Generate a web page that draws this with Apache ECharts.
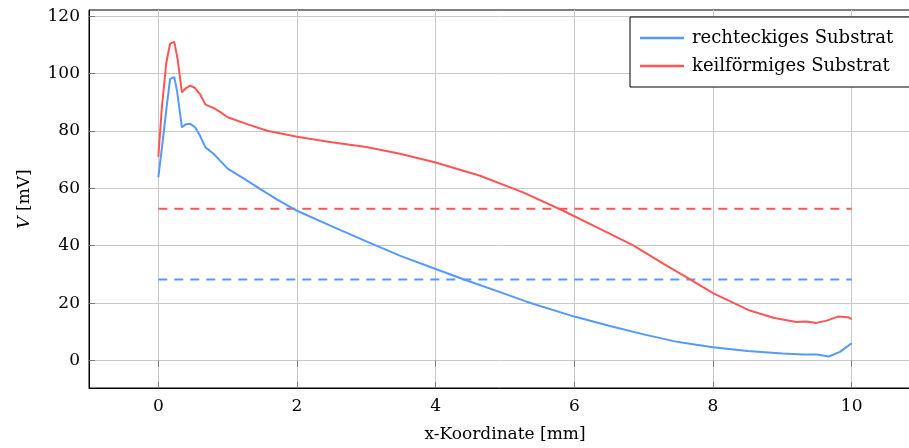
<!DOCTYPE html>
<html>
<head>
<meta charset="utf-8">
<script src="https://cdn.jsdelivr.net/npm/echarts@6/dist/echarts.min.js"></script>
<style>html,body{margin:0;padding:0;background:#fff;}#c{width:909px;height:448px;}</style>
</head>
<body>
<div id="c"></div>
<script>
const xTicks = [0, 2, 4, 6, 8, 10];
const yTicks = [0, 20, 40, 60, 80, 100, 120];

const rectX = [0, 0.08, 0.125, 0.17, 0.23, 0.27, 0.34, 0.40, 0.46, 0.53, 0.60, 0.68, 0.80, 0.89, 1.0, 1.28, 1.5, 1.71, 2.0, 2.48, 3.0, 3.5, 4.0, 4.4, 5.0, 5.31, 6.0, 6.5, 7.0, 7.5, 8.0, 8.5, 9.0, 9.3, 9.5, 9.67, 9.83, 10];
const rectY = [63.8, 80, 89.5, 98.2, 98.8, 94, 81.3, 82.4, 82.5, 81.3, 78.4, 74.3, 72, 69.7, 66.9, 62.7, 59.3, 56.2, 52.2, 47.0, 41.5, 36.4, 31.9, 28.3, 23.2, 20.5, 15.3, 12.1, 9.1, 6.4, 4.6, 3.3, 2.4, 2.1, 2.1, 1.4, 3.0, 6.0];

const keilX = [0, 0.05, 0.115, 0.17, 0.23, 0.28, 0.34, 0.40, 0.46, 0.53, 0.60, 0.68, 0.80, 0.89, 1.0, 1.28, 1.57, 2.0, 2.5, 3.0, 3.5, 4.0, 4.64, 5.26, 5.84, 6.37, 6.85, 7.3, 7.67, 8.0, 8.53, 8.87, 9.2, 9.35, 9.49, 9.64, 9.8, 9.95, 10];
const keilY = [71, 88, 103.8, 110.5, 111.1, 104.8, 93.5, 95, 95.8, 95, 92.9, 89.2, 88, 86.7, 84.8, 82.4, 80.1, 78.0, 76.1, 74.4, 72.0, 69.0, 64.4, 58.6, 52.2, 45.9, 40.1, 33.5, 28.3, 23.5, 17.4, 14.9, 13.4, 13.6, 13.1, 13.9, 15.3, 15.1, 14.4];

const refX = [0, 10];
const rectRef = [28.2, 28.2];
const keilRef = [52.9, 52.9];

const seriesNames = ['rechteckiges Substrat', 'keilförmiges Substrat'];
const BLUE = '#5599ff';
const RED = '#ff5555';
const FONT = 'DejaVu Serif';

const zip = (a, b) => a.map((v, i) => [v, b[i]]);

const chart = echarts.init(document.getElementById('c'), null, {renderer: 'canvas'});
chart.setOption({
  animation: false,
  backgroundColor: '#fff',
  grid: {left: 89, top: 10, width: 832, bottom: 60, show: true, borderColor: '#000', borderWidth: 1, containLabel: false, outerBoundsMode: 'none'},
  xAxis: [{
    type: 'value', min: -1, max: 11,
    name: 'x-Koordinate [mm]', nameLocation: 'middle', nameGap: 38,
    nameTextStyle: {fontFamily: FONT, fontSize: 17, color: '#000'},
    axisLine: {show: true, onZero: false, lineStyle: {color: '#000', width: 1}},
    axisTick: {show: true, inside: true, length: 6, customValues: xTicks, lineStyle: {color: '#777'}},
    axisLabel: {customValues: xTicks, fontFamily: FONT, fontSize: 17, color: '#000', margin: 10},
    splitLine: {show: true, customValues: xTicks, lineStyle: {color: '#c8c8c8', width: 1}}
  }, {
    type: 'value', min: -1, max: 11, position: 'top',
    axisLine: {show: false},
    axisTick: {show: true, inside: true, length: 6, customValues: xTicks, lineStyle: {color: '#777'}},
    axisLabel: {show: false},
    splitLine: {show: false}
  }],
  yAxis: {
    type: 'value', min: -9.6, max: 122.2,
    name: '{i|V} [mV]', nameLocation: 'middle', nameGap: 56, nameRotate: 90,
    nameTextStyle: {fontFamily: FONT, fontSize: 17, color: '#000', rich: {i: {fontFamily: FONT, fontStyle: 'italic', fontSize: 17}}},
    axisLine: {show: true, onZero: false, lineStyle: {color: '#000', width: 1}},
    axisTick: {show: true, inside: true, length: 6, customValues: yTicks, lineStyle: {color: '#777'}},
    axisLabel: {customValues: yTicks, fontFamily: FONT, fontSize: 17, color: '#000', margin: 9},
    splitLine: {show: true, customValues: yTicks, lineStyle: {color: '#c8c8c8', width: 1}}
  },
  legend: {
    data: seriesNames.map(n => ({name: n, icon: 'rect'})),
    orient: 'vertical', left: 630, top: 17,
    padding: [12, 20, 12, 10], itemGap: 10,
    itemWidth: 44, itemHeight: 2.5,
    backgroundColor: '#fff', borderColor: '#000', borderWidth: 1, borderRadius: 0,
    textStyle: {fontFamily: FONT, fontSize: 18, color: '#000', lineHeight: 18, padding: [0, 0, 0, 3]}
  },
  series: [
    {name: seriesNames[0], type: 'line', data: zip(rectX, rectY), showSymbol: false, symbol: 'none', smooth: false,
     lineStyle: {color: BLUE, width: 2}, itemStyle: {color: BLUE}, z: 3},
    {name: seriesNames[1], type: 'line', data: zip(keilX, keilY), showSymbol: false, symbol: 'none', smooth: false,
     lineStyle: {color: RED, width: 2}, itemStyle: {color: RED}, z: 3},
    {name: 'rectRef', type: 'line', data: zip(refX, rectRef), symbol: 'none',
     lineStyle: {color: BLUE, width: 2, type: [9, 7]}, z: 2},
    {name: 'keilRef', type: 'line', data: zip(refX, keilRef), symbol: 'none',
     lineStyle: {color: RED, width: 2, type: [9, 7]}, z: 2}
  ]
});
</script>
</body>
</html>
